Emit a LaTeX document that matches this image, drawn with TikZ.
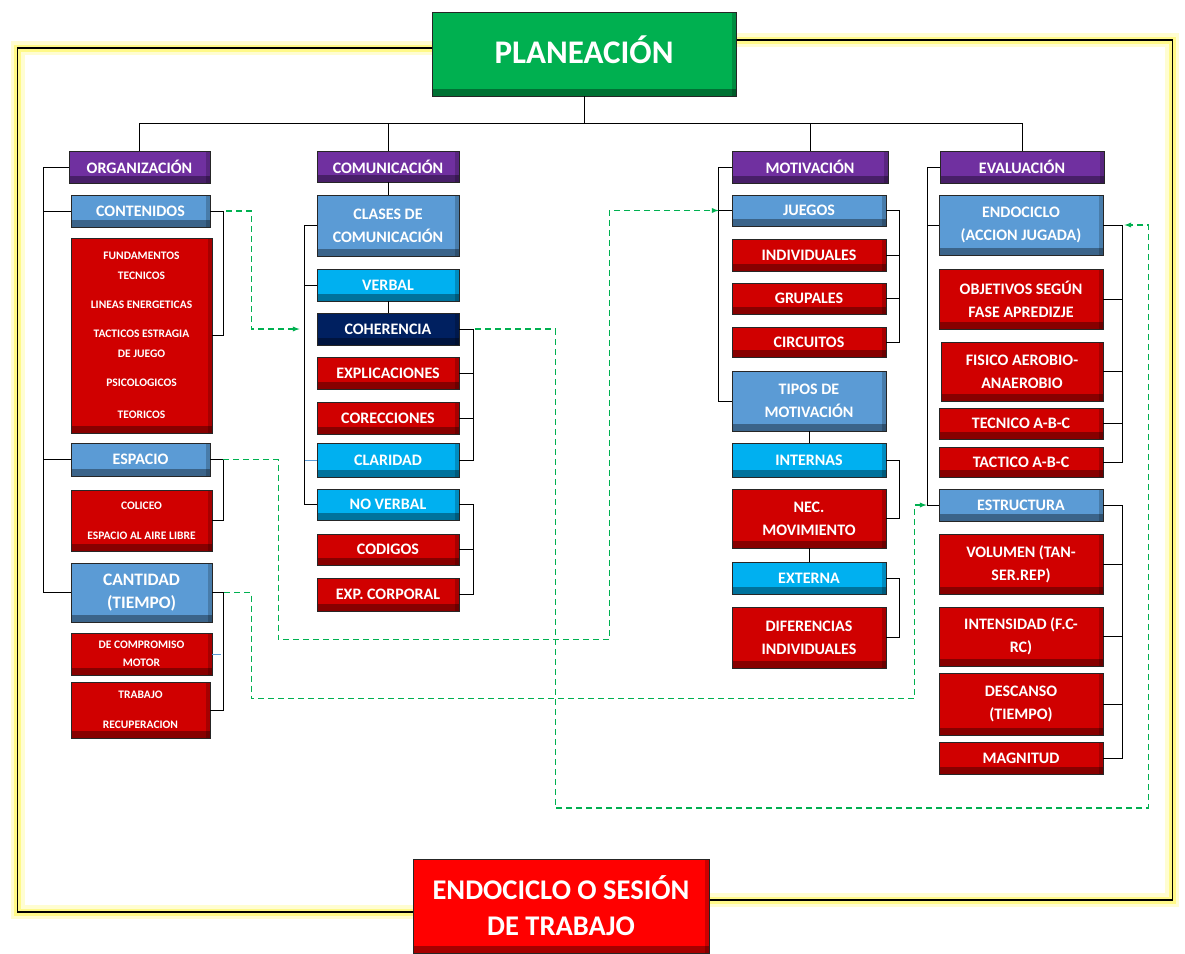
\documentclass[tikz,border=0pt]{standalone}
\usepackage{fontspec}
\setmainfont{Carlito}
\usetikzlibrary{backgrounds}

\definecolor{planGreen}{HTML}{00B050}
\definecolor{headPurple}{HTML}{7030A0}
\definecolor{itemBlue}{HTML}{5B9BD5}
\definecolor{itemCyan}{HTML}{00B0F0}
\definecolor{itemNavy}{HTML}{002060}
\definecolor{itemRed}{HTML}{D00000}
\definecolor{sessionRed}{HTML}{FF0000}
\definecolor{flowGreen}{HTML}{00B050}

\tikzset{
  box/.style={draw=black!85,line width=0.8pt,text=white,align=center,inner sep=0pt,
    font=\bfseries\fontsize{16}{23}\selectfont,
    path picture={
      \fill[black,opacity=.35] (path picture bounding box.south west) rectangle ([yshift=7pt]path picture bounding box.south east);
      \fill[black,opacity=.2] ([xshift=-4pt]path picture bounding box.south east) rectangle (path picture bounding box.north east);}},
  boxsize/.style 2 args={minimum width=#1pt,minimum height=#2pt},
  headbox/.style={box,fill=headPurple},
  bluebox/.style={box,fill=itemBlue},
  cyanbox/.style={box,fill=itemCyan},
  navybox/.style={box,fill=itemNavy},
  redbox/.style={box,fill=itemRed},
  tinytext/.style={font=\bfseries\fontsize{11.5}{30}\selectfont},
  link/.style={draw=black,line width=1pt},
  flow/.style={->,>=latex,draw=flowGreen,line width=1.3pt,dash pattern=on 6pt off 4pt},
  frame/.style={draw=black,line width=1.3pt,
    preaction={draw=yellow,line width=14pt,opacity=.18},
    preaction={draw=yellow,line width=7pt,opacity=.35}}
}

\begin{document}
\begin{tikzpicture}[x=1pt,y=-1pt]
\useasboundingbox (0,0) rectangle (1185,953);

% top and bottom
\node[box,fill=planGreen,boxsize={304}{84},font=\bfseries\fontsize{33}{36}\selectfont] (Planeacion) at (584,54) {\raisebox{9pt}{PLANEACIÓN}};
\node[box,fill=sessionRed,boxsize={296}{94},font=\bfseries\fontsize{28.5}{36}\selectfont] (Sesion) at (561,906) {ENDOCICLO O SESIÓN\\DE TRABAJO};

% organizacion
\node[headbox,boxsize={141}{32}] (Organizacion) at (139.5,167) {ORGANIZACIÓN};
\node[bluebox,boxsize={139}{32}] (Contenidos) at (140.5,211) {CONTENIDOS};
\node[redbox,boxsize={141}{195},font=\bfseries\fontsize{11.5}{20}\selectfont] (Fundamentos) at (141.5,335.5) {FUNDAMENTOS\\TECNICOS\\[9pt]LINEAS ENERGETICAS\\[9pt]TACTICOS ESTRAGIA\\DE JUEGO\\[9pt]PSICOLOGICOS\\[12pt]TEORICOS};
\node[bluebox,boxsize={139}{33}] (Espacio) at (140.5,459.5) {ESPACIO};
\node[redbox,tinytext,boxsize={141}{61}] (Coliceo) at (141.5,520.5) {COLICEO\\ESPACIO AL AIRE LIBRE};
\node[bluebox,boxsize={141}{59},font=\bfseries\fontsize{17.5}{23}\selectfont] (Cantidad) at (141.5,592.5) {CANTIDAD\\(TIEMPO)};
\node[redbox,boxsize={141}{42},font=\bfseries\fontsize{11.5}{18}\selectfont] (Compromiso) at (141.5,654) {DE COMPROMISO\\MOTOR};
\node[redbox,tinytext,boxsize={139}{56}] (Trabajo) at (140.5,710) {TRABAJO\\RECUPERACION};

% comunicacion
\node[headbox,boxsize={142}{31}] (Comunicacion) at (388,166.5) {COMUNICACIÓN};
\node[bluebox,boxsize={142}{61}] (Clases) at (388,225.5) {CLASES DE\\COMUNICACIÓN};
\node[cyanbox,boxsize={142}{32}] (Verbal) at (388,285) {VERBAL};
\node[navybox,boxsize={142}{32}] (Coherencia) at (388,329) {COHERENCIA};
\node[redbox,boxsize={142}{32}] (Explicaciones) at (388,373) {EXPLICACIONES};
\node[redbox,boxsize={142}{32}] (Correcciones) at (388,418) {CORECCIONES};
\node[cyanbox,boxsize={142}{34}] (Claridad) at (388,460) {CLARIDAD};
\node[cyanbox,boxsize={142}{31}] (NoVerbal) at (388,504.5) {NO VERBAL};
\node[redbox,boxsize={142}{31}] (Codigos) at (388,549.5) {CODIGOS};
\node[redbox,boxsize={142}{33}] (Corporal) at (388,594.5) {EXP. CORPORAL};

% motivacion
\node[headbox,boxsize={156}{32}] (Motivacion) at (810,167) {MOTIVACIÓN};
\node[bluebox,boxsize={154}{31}] (Juegos) at (809,210.5) {JUEGOS};
\node[redbox,boxsize={154}{32}] (Individuales) at (809,255) {INDIVIDUALES};
\node[redbox,boxsize={154}{31}] (Grupales) at (809,298.5) {GRUPALES};
\node[redbox,boxsize={154}{30}] (Circuitos) at (809,342) {CIRCUITOS};
\node[bluebox,boxsize={154}{60}] (Tipos) at (809,401) {TIPOS DE\\MOTIVACIÓN};
\node[cyanbox,boxsize={154}{34}] (Internas) at (809,460) {INTERNAS};
\node[redbox,boxsize={154}{59}] (Necesidad) at (809,518.5) {NEC.\\MOVIMIENTO};
\node[cyanbox,boxsize={154}{32}] (Externa) at (809,578) {EXTERNA};
\node[redbox,boxsize={154}{61}] (Diferencias) at (809,637.5) {DIFERENCIAS\\INDIVIDUALES};

% evaluacion
\node[headbox,boxsize={164}{32}] (Evaluacion) at (1022,167) {EVALUACIÓN};
\node[bluebox,boxsize={164}{60}] (Endociclo) at (1021,225) {ENDOCICLO\\(ACCION JUGADA)};
\node[redbox,boxsize={164}{60}] (Objetivos) at (1021,299) {OBJETIVOS SEGÚN\\FASE APREDIZJE};
\node[redbox,boxsize={162}{59}] (Fisico) at (1022,371.5) {FISICO AEROBIO-\\ANAEROBIO};
\node[redbox,boxsize={164}{31}] (Tecnico) at (1021,423.5) {TECNICO A-B-C};
\node[redbox,boxsize={164}{30}] (Tactico) at (1021,462) {TACTICO A-B-C};
\node[bluebox,boxsize={164}{32}] (Estructura) at (1021,505) {ESTRUCTURA};
\node[redbox,boxsize={164}{60}] (Volumen) at (1021,564) {VOLUMEN (TAN-\\SER.REP)};
\node[redbox,boxsize={164}{59}] (Intensidad) at (1021,636.5) {INTENSIDAD (F.C-\\RC)};
\node[redbox,boxsize={164}{62}] (Descanso) at (1021,704) {DESCANSO\\(TIEMPO)};
\node[redbox,boxsize={164}{32}] (Magnitud) at (1021,758) {MAGNITUD};

% frame round the chart
\begin{scope}[on background layer]
\draw[frame] ([yshift=6pt]Planeacion.west) -- ++(-414,0) |- ([yshift=-6pt]Sesion.west);
\draw[frame] ([yshift=14pt]Planeacion.east) -- ++(436,0) |- ([yshift=6pt]Sesion.east);
\end{scope}

% tree
\draw[link] (Planeacion.south) -- ++(0,27) -| (Organizacion.north);
\draw[link] (Planeacion.south) ++(0,27) -| (Comunicacion.north);
\draw[link] (Planeacion.south) ++(0,27) -| (Motivacion.north);
\draw[link] (Planeacion.south) ++(0,27) -| (Evaluacion.north);

\draw[link] (Organizacion.west) -- ++(-25,0) |- (Cantidad.west);
\draw[link] (Organizacion.west) ++(-25,0) |- (Contenidos.west);
\draw[link] (Organizacion.west) ++(-25,0) |- (Espacio.west);
\draw[link] (Contenidos.east) -- ++(13,0) |- (Fundamentos.east);
\draw[link] (Espacio.east) -- ++(13,0) |- (Coliceo.east);
\draw[link] (Cantidad.east) -- ++(11,0) |- (Trabajo.east);
\draw[draw=itemBlue,line width=0.8pt] (Compromiso.east) -- ++(9,0);

\draw[link] (Comunicacion.south) -- (Clases.north);
\draw[link] (Clases.west) -- ++(-12,0) |- (NoVerbal.west);
\draw[link] (Clases.west) ++(-12,0) |- (Verbal.west);
\draw[draw=itemBlue,line width=0.8pt] (Claridad.west) -- ++(-12,0);
\draw[link] (Verbal.south) -- (Coherencia.north);
\draw[link] (Coherencia.east) -- ++(14,0) |- (Claridad.east);
\draw[link] (Coherencia.east) ++(14,0) |- (Explicaciones.east);
\draw[link] (Coherencia.east) ++(14,0) |- (Correcciones.east);
\draw[link] (NoVerbal.east) -- ++(14,0) |- (Corporal.east);
\draw[link] (NoVerbal.east) ++(14,0) |- (Codigos.east);

\draw[link] (Motivacion.west) -- ++(-13,0) |- (Tipos.west);
\draw[link] (Motivacion.west) ++(-13,0) |- (Juegos.west);
\draw[link] (Juegos.east) -- ++(13,0) |- (Circuitos.east);
\draw[link] (Juegos.east) ++(13,0) |- (Individuales.east);
\draw[link] (Juegos.east) ++(13,0) |- (Grupales.east);
\draw[link] (Tipos.south) -- (Internas.north);
\draw[link] (Internas.east) -- ++(13,0) |- (Necesidad.east);
\draw[link] (Necesidad.south) -- (Externa.north);
\draw[link] (Externa.east) -- ++(13,0) |- (Diferencias.east);

\draw[link] (Evaluacion.west) -- ++(-12,0) |- (Estructura.west);
\draw[link] (Evaluacion.west) ++(-12,0) |- (Endociclo.west);
\draw[link] (Endociclo.east) -- ++(19,0) |- (Tactico.east);
\draw[link] (Endociclo.east) ++(19,0) |- (Objetivos.east);
\draw[link] (Endociclo.east) ++(19,0) |- (Fisico.east);
\draw[link] (Endociclo.east) ++(19,0) |- (Tecnico.east);
\draw[link] (Estructura.east) -- ++(19,0) |- (Magnitud.east);
\draw[link] (Estructura.east) ++(19,0) |- (Volumen.east);
\draw[link] (Estructura.east) ++(19,0) |- (Intensidad.east);
\draw[link] (Estructura.east) ++(19,0) |- (Descanso.east);

% dashed relations
\draw[flow] ([xshift=16pt]Contenidos.east) -- ++(25,0) |- ([xshift=-17pt]Coherencia.west);
\draw[flow] ([xshift=13pt]Espacio.east) -- ++(55,0) -- ++(0,180) -- ++(331,0) |- ([xshift=-13pt]Juegos.west);
\draw[flow] ([xshift=12pt]Cantidad.east) -- ++(27,0) -- ++(0,106) -- ++(663,0) |- ([xshift=-12pt]Estructura.west);
\draw[flow] ([xshift=16pt]Coherencia.east) -- ++(80,0) -- ++(0,479) -- ++(593,0) |- ([xshift=21pt]Endociclo.east);

\end{tikzpicture}
\end{document}
